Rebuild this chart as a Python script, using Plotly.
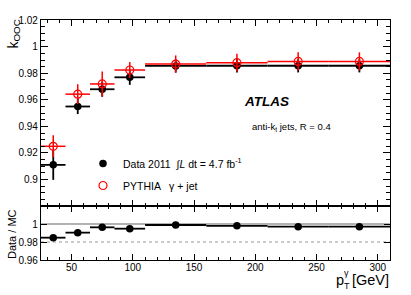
import plotly.graph_objects as go

# ---- data ----
pt_centers = [35, 55, 75, 97.5, 135, 185, 235, 285]
pt_halfwidth = [10, 10, 10, 12.5, 25, 25, 25, 25]
data_k = [0.911, 0.955, 0.968, 0.977, 0.9856, 0.9857, 0.9857, 0.9857]
data_err = [0.0113, 0.0057, 0.0057, 0.0057, 0.005, 0.005, 0.005, 0.005]
mc_k = [0.925, 0.9643, 0.972, 0.9825, 0.987, 0.988, 0.989, 0.989]
mc_err = [0.0083, 0.0075, 0.0094, 0.006, 0.0065, 0.0068, 0.0068, 0.0068]
ratio = [0.9848, 0.9904, 0.9963, 0.9948, 0.9989, 0.998, 0.997, 0.997]

upper_ticks = [0.88, 0.9, 0.92, 0.94, 0.96, 0.98, 1.0, 1.02]
upper_ticktext = [" ", "0.9", "0.92", "0.94", "0.96", "0.98", "1", "1.02"]
lower_ticks = [0.96, 0.98, 1.0]
lower_ticktext = ["0.96", "0.98", "1"]
x_ticks = [50, 100, 150, 200, 250, 300]

FONT = "Liberation Sans, Arial, sans-serif"
RED = "#ff0000"

fig = go.Figure()

# Data (black dots)
fig.add_trace(go.Scatter(
    x=pt_centers, y=data_k, mode="markers",
    name="Data 2011  ∫<i>L</i> dt = 4.7 fb<sup>-1</sup>",
    marker=dict(symbol="circle", size=7.5, color="black"),
    error_x=dict(type="data", array=pt_halfwidth, width=0, thickness=1.8, color="black"),
    error_y=dict(type="data", array=data_err, width=0, thickness=1.8, color="black"),
    xaxis="x2", yaxis="y2", legendgroup="a",
))
# MC (red open circles)
fig.add_trace(go.Scatter(
    x=pt_centers, y=mc_k, mode="markers", name="PYTHIA   γ + jet",
    marker=dict(symbol="circle-open", size=8, color=RED, line=dict(width=1.2, color=RED)),
    error_x=dict(type="data", array=pt_halfwidth, width=0, thickness=1.5, color=RED),
    error_y=dict(type="data", array=mc_err, width=0, thickness=1.5, color=RED),
    xaxis="x2", yaxis="y2", legendgroup="b",
))
# Ratio
fig.add_trace(go.Scatter(
    x=pt_centers, y=ratio, mode="markers", showlegend=False,
    marker=dict(symbol="circle", size=7.5, color="black"),
    error_x=dict(type="data", array=pt_halfwidth, width=0, thickness=1.8, color="black"),
    xaxis="x", yaxis="y",
))

# reference lines in ratio panel
fig.add_shape(type="line", xref="x domain", yref="y", x0=0, x1=1, y0=1.0, y1=1.0,
              line=dict(color="#9a9a9a", width=1.5), layer="below")
fig.add_shape(type="line", xref="x domain", yref="y", x0=0, x1=1, y0=0.98, y1=0.98,
              line=dict(color="#9a9a9a", width=1.2, dash="dot"), layer="below")

axis_common = dict(showline=True, linecolor="black", linewidth=1.2, ticks="inside",
                   tickcolor="black", showgrid=False, zeroline=False, automargin=False,
                   ticklabeloverflow="allow",
                   tickfont=dict(family=FONT, size=10, color="black"))

fig.update_layout(
    width=411, height=295,
    margin=dict(l=41, r=21, t=20, b=35, autoexpand=False),
    paper_bgcolor="white", plot_bgcolor="white",
    font=dict(family=FONT, color="black"),
    xaxis=dict(range=[25, 310], domain=[0, 1], anchor="y", tickvals=x_ticks,
               ticklen=6, mirror="ticks", ticklabelstandoff=-2,
               minor=dict(dtick=10, tick0=0, ticklen=3, ticks="inside", tickcolor="black"),
               **axis_common),
    xaxis2=dict(range=[25, 310], domain=[0, 1], anchor="y2", matches="x",
                tickvals=x_ticks, showticklabels=False, ticklen=6, mirror="ticks",
                minor=dict(dtick=10, tick0=0, ticklen=3, ticks="inside", tickcolor="black"),
                **axis_common),
    yaxis=dict(range=[0.96, 1.02], domain=[0, 0.225], anchor="x",
               tickvals=lower_ticks, ticktext=lower_ticktext, ticklen=6, mirror="ticks",
               **axis_common),
    yaxis2=dict(range=[0.88, 1.0202], domain=[0.225, 1], anchor="x2",
                tickvals=upper_ticks, ticktext=upper_ticktext, ticklen=7, mirror="ticks",
                minor=dict(dtick=0.005, tick0=0.88, ticklen=4, ticks="inside", tickcolor="black"),
                **axis_common),
    showlegend=True,
    legend=dict(x=(83 - 41) / 349, y=(295 - 35 - 149) / 240, xanchor="left", yanchor="top",
                bgcolor="rgba(0,0,0,0)", font=dict(family=FONT, size=10.5, color="black"),
                traceorder="grouped", tracegroupgap=3, itemsizing="trace"),
)

def px_to_paper_x(px):
    return (px - 41) / 349

def px_to_paper_y(py):
    return (295 - 35 - py) / 240

annotations = [
    dict(text="<b><i>ATLAS</i></b>", x=px_to_paper_x(266), y=px_to_paper_y(101),
         xanchor="center", yanchor="middle", font=dict(size=13.5)),
    dict(text="anti-k<sub>t</sub> jets, R = 0.4", x=px_to_paper_x(250), y=px_to_paper_y(127),
         xanchor="left", yanchor="middle", font=dict(size=9.5)),
    dict(text="k<sub>OOC</sub>", x=px_to_paper_x(2), y=px_to_paper_y(18), textangle=-90,
         xanchor="left", yanchor="top", font=dict(size=14)),
    dict(text="Data / MC", x=px_to_paper_x(4), y=px_to_paper_y(234), textangle=-90,
         xanchor="left", yanchor="middle", font=dict(size=11)),
    dict(text="p", x=px_to_paper_x(334), y=px_to_paper_y(280), xanchor="left",
         yanchor="middle", font=dict(size=14.5)),
    dict(text="γ", x=px_to_paper_x(342), y=px_to_paper_y(273), xanchor="left",
         yanchor="middle", font=dict(size=9)),
    dict(text="T", x=px_to_paper_x(342), y=px_to_paper_y(286), xanchor="left",
         yanchor="middle", font=dict(size=9)),
    dict(text="[GeV]", x=px_to_paper_x(391), y=px_to_paper_y(280), xanchor="right",
         yanchor="middle", font=dict(size=14.5)),
]
for a in annotations:
    a.update(xref="paper", yref="paper", showarrow=False)
    a["font"].update(family=FONT, color="black")
fig.update_layout(annotations=annotations)

fig.write_html("out.html", config={"displayModeBar": False},
               post_script="document.body.style.margin='0px';")
